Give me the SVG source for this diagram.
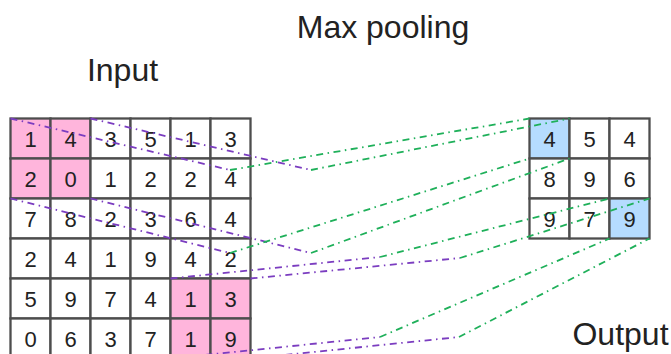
<svg xmlns="http://www.w3.org/2000/svg" width="671" height="354" viewBox="0 0 671 354">
<style>
.c{stroke:#4d4d4d;stroke-width:2.3;fill:#ffffff}
.p{fill:#ffb5dc}
.b{fill:#b5dcff}
.n{font-family:"Liberation Sans",Arial,sans-serif;font-size:22px;fill:#222;text-anchor:middle}
.t{font-family:"Liberation Sans",Arial,sans-serif;font-size:32px;fill:#222;text-anchor:middle}
.pu{stroke:#7b3dc0;stroke-width:1.8;fill:none;stroke-dasharray:7 4.5 1.5 4.5}
.gr{stroke:#1fb05a;stroke-width:1.8;fill:none;stroke-dasharray:7 4.5 1.5 4.5}
</style>
<rect width="671" height="354" fill="#ffffff"/>
<g id="title"><text class="t" x="383" y="38">Max pooling</text></g>
<g id="input-label"><text class="t" x="122.5" y="81">Input</text></g>
<g id="output-label"><text class="t" x="620.5" y="345">Output</text></g>
<g id="input">
<rect class="c p" x="10.5" y="118.5" width="40" height="40"/><rect class="c p" x="50.5" y="118.5" width="40" height="40"/><rect class="c" x="90.5" y="118.5" width="40" height="40"/><rect class="c" x="130.5" y="118.5" width="40" height="40"/><rect class="c" x="170.5" y="118.5" width="40" height="40"/><rect class="c" x="210.5" y="118.5" width="40" height="40"/>
<rect class="c p" x="10.5" y="158.5" width="40" height="40"/><rect class="c p" x="50.5" y="158.5" width="40" height="40"/><rect class="c" x="90.5" y="158.5" width="40" height="40"/><rect class="c" x="130.5" y="158.5" width="40" height="40"/><rect class="c" x="170.5" y="158.5" width="40" height="40"/><rect class="c" x="210.5" y="158.5" width="40" height="40"/>
<rect class="c" x="10.5" y="198.5" width="40" height="40"/><rect class="c" x="50.5" y="198.5" width="40" height="40"/><rect class="c" x="90.5" y="198.5" width="40" height="40"/><rect class="c" x="130.5" y="198.5" width="40" height="40"/><rect class="c" x="170.5" y="198.5" width="40" height="40"/><rect class="c" x="210.5" y="198.5" width="40" height="40"/>
<rect class="c" x="10.5" y="238.5" width="40" height="40"/><rect class="c" x="50.5" y="238.5" width="40" height="40"/><rect class="c" x="90.5" y="238.5" width="40" height="40"/><rect class="c" x="130.5" y="238.5" width="40" height="40"/><rect class="c" x="170.5" y="238.5" width="40" height="40"/><rect class="c" x="210.5" y="238.5" width="40" height="40"/>
<rect class="c" x="10.5" y="278.5" width="40" height="40"/><rect class="c" x="50.5" y="278.5" width="40" height="40"/><rect class="c" x="90.5" y="278.5" width="40" height="40"/><rect class="c" x="130.5" y="278.5" width="40" height="40"/><rect class="c p" x="170.5" y="278.5" width="40" height="40"/><rect class="c p" x="210.5" y="278.5" width="40" height="40"/>
<rect class="c" x="10.5" y="318.5" width="40" height="40"/><rect class="c" x="50.5" y="318.5" width="40" height="40"/><rect class="c" x="90.5" y="318.5" width="40" height="40"/><rect class="c" x="130.5" y="318.5" width="40" height="40"/><rect class="c p" x="170.5" y="318.5" width="40" height="40"/><rect class="c p" x="210.5" y="318.5" width="40" height="40"/>
<text class="n" x="30.5" y="146.5">1</text><text class="n" x="70.5" y="146.5">4</text><text class="n" x="110.5" y="146.5">3</text><text class="n" x="150.5" y="146.5">5</text><text class="n" x="190.5" y="146.5">1</text><text class="n" x="230.5" y="146.5">3</text>
<text class="n" x="30.5" y="186.5">2</text><text class="n" x="70.5" y="186.5">0</text><text class="n" x="110.5" y="186.5">1</text><text class="n" x="150.5" y="186.5">2</text><text class="n" x="190.5" y="186.5">2</text><text class="n" x="230.5" y="186.5">4</text>
<text class="n" x="30.5" y="226.5">7</text><text class="n" x="70.5" y="226.5">8</text><text class="n" x="110.5" y="226.5">2</text><text class="n" x="150.5" y="226.5">3</text><text class="n" x="190.5" y="226.5">6</text><text class="n" x="230.5" y="226.5">4</text>
<text class="n" x="30.5" y="266.5">2</text><text class="n" x="70.5" y="266.5">4</text><text class="n" x="110.5" y="266.5">1</text><text class="n" x="150.5" y="266.5">9</text><text class="n" x="190.5" y="266.5">4</text><text class="n" x="230.5" y="266.5">2</text>
<text class="n" x="30.5" y="306.5">5</text><text class="n" x="70.5" y="306.5">9</text><text class="n" x="110.5" y="306.5">7</text><text class="n" x="150.5" y="306.5">4</text><text class="n" x="190.5" y="306.5">1</text><text class="n" x="230.5" y="306.5">3</text>
<text class="n" x="30.5" y="346.5">0</text><text class="n" x="70.5" y="346.5">6</text><text class="n" x="110.5" y="346.5">3</text><text class="n" x="150.5" y="346.5">7</text><text class="n" x="190.5" y="346.5">1</text><text class="n" x="230.5" y="346.5">9</text>
</g>
<g id="output">
<rect class="c b" x="529.5" y="118.5" width="40" height="40"/><rect class="c" x="569.5" y="118.5" width="40" height="40"/><rect class="c" x="609.5" y="118.5" width="40" height="40"/>
<rect class="c" x="529.5" y="158.5" width="40" height="40"/><rect class="c" x="569.5" y="158.5" width="40" height="40"/><rect class="c" x="609.5" y="158.5" width="40" height="40"/>
<rect class="c" x="529.5" y="198.5" width="40" height="40"/><rect class="c" x="569.5" y="198.5" width="40" height="40"/><rect class="c b" x="609.5" y="198.5" width="40" height="40"/>
<text class="n" x="549.5" y="146.5">4</text><text class="n" x="589.5" y="146.5">5</text><text class="n" x="629.5" y="146.5">4</text>
<text class="n" x="549.5" y="186.5">8</text><text class="n" x="589.5" y="186.5">9</text><text class="n" x="629.5" y="186.5">6</text>
<text class="n" x="549.5" y="226.5">9</text><text class="n" x="589.5" y="226.5">7</text><text class="n" x="629.5" y="226.5">9</text>
</g>
<g id="connectors">
<path class="pu" d="M10.5 118.5L230 170"/>
<path class="pu" d="M90.5 118.5L311 170"/>
<path class="pu" d="M10.5 198.5L230 253"/>
<path class="pu" d="M90.5 198.5L311 253"/>
<path class="gr" d="M230 170L529.5 118.5"/>
<path class="gr" d="M311 170L569.5 118.5"/>
<path class="gr" d="M230 253L529.5 158.5"/>
<path class="gr" d="M311 253L569.5 158.5"/>
<path class="pu" d="M170.5 278.5L380 257"/>
<path class="pu" d="M250.5 278.5L460 258"/>
<path class="pu" d="M170.5 358.5L380 337"/>
<path class="pu" d="M250.5 358.5L459 337"/>
<path class="gr" d="M380 257L609.5 198.5"/>
<path class="gr" d="M460 258L649.5 198.5"/>
<path class="gr" d="M380 337L609.5 238.5"/>
<path class="gr" d="M459 337L649.5 238.5"/>
</g>
</svg>
